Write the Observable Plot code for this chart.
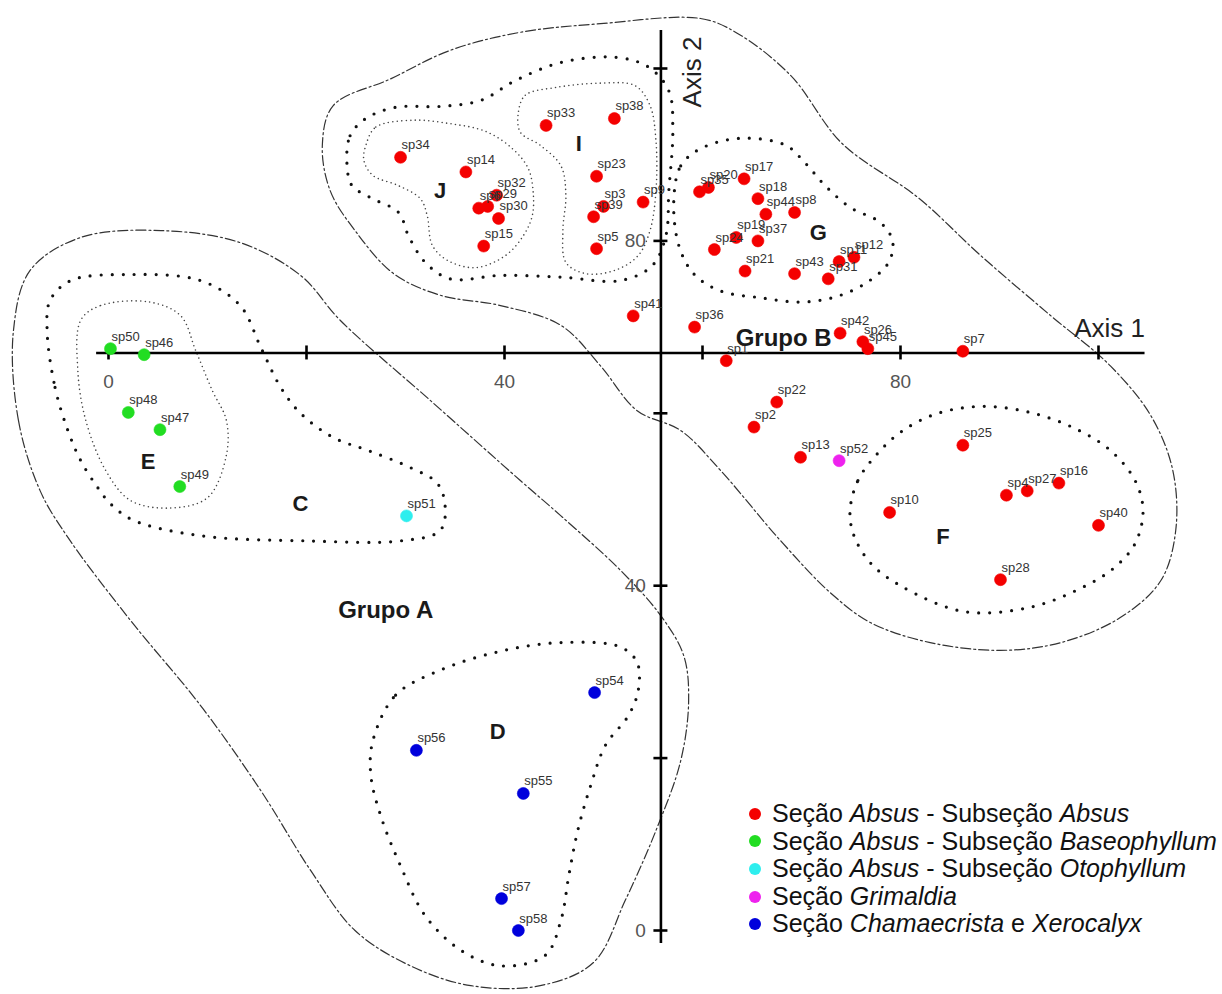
<!DOCTYPE html>
<html><head><meta charset="utf-8">
<script src="https://cdn.jsdelivr.net/npm/d3@7"></script>
<script src="https://cdn.jsdelivr.net/npm/@observablehq/plot@0.6"></script>
<style>
body{margin:0;background:#fff;font-family:"Liberation Sans",Arial,sans-serif;}
#wrap{position:relative;width:1222px;height:994px;overflow:hidden}
#legend{position:absolute;left:746px;top:800px;font-size:25px;line-height:27.6px;color:#111;}
.row{display:flex;align-items:center;white-space:nowrap}
.sw{width:12px;height:12px;border-radius:50%;margin-left:3px;margin-right:11px;flex:none}
</style></head><body><div id="wrap"><div id="legend"></div></div>
<script>
// ---- data: species scores on the two axes ----
const speciesNames = ["sp34","sp14","sp32","sp29","sp6","sp30","sp15","sp33","sp38","sp23","sp3","sp39","sp5","sp9",
  "sp35","sp20","sp17","sp18","sp44","sp8","sp19","sp37","sp24","sp21","sp43","sp31","sp11","sp12",
  "sp41","sp36","sp1","sp42","sp26","sp45","sp7","sp22","sp2","sp13","sp25","sp10","sp4","sp27","sp16","sp40","sp28",
  "sp52","sp50","sp46","sp48","sp47","sp49","sp51","sp54","sp56","sp55","sp57","sp58"];
const axis1 = [29.5,36.1,39.2,38.3,37.4,39.4,37.9,44.2,51.1,49.3,50.0,49.0,49.3,54.0,
  59.7,60.6,64.2,65.6,66.4,69.3,63.4,65.6,61.2,64.3,69.3,72.7,73.8,75.3,
  53.0,59.2,62.4,73.9,76.2,76.7,86.3,67.5,65.2,69.9,86.3,78.9,90.7,92.8,96.0,100.0,90.1,
  73.8,0.2,3.6,2.0,5.2,7.2,30.1,49.1,31.1,41.9,39.7,41.4];
const axis2 = [89.7,88.0,85.3,84.0,83.8,82.6,79.4,93.4,94.2,87.5,84.0,82.8,79.1,84.5,
  85.7,86.2,87.2,84.9,83.1,83.3,80.4,80.0,79.0,76.5,76.2,75.6,77.6,78.1,
  71.3,70.0,66.1,69.3,68.3,67.5,67.2,61.3,58.4,54.9,56.3,48.5,50.5,51.0,51.9,47.0,40.7,
  54.5,67.5,66.8,60.1,58.1,51.5,48.1,27.6,20.9,15.9,3.7,0.0];
const sectionOf = [...Array(45).fill("AA"),"GR","AB","AB","AB","AB","AB","AO","CX","CX","CX","CX","CX"];

const sections = ["AA","AB","AO","GR","CX"];
const sectionColors = ["#f40000","#22dd22","#2eeeee","#ee22ee","#0000dc"];
const legendLabels = [
  [["Seção ",0],["Absus",1],[" - Subseção ",0],["Absus",1]],
  [["Seção ",0],["Absus",1],[" - Subseção ",0],["Baseophyllum",1]],
  [["Seção ",0],["Absus",1],[" - Subseção ",0],["Otophyllum",1]],
  [["Seção ",0],["Grimaldia",1]],
  [["Seção ",0],["Chamaecrista",1],[" e ",0],["Xerocalyx",1]]
];

// ---- axes ----
const axisCross = {x: 55.8, y: 67};
const xAxisExtent = [-1.2, 104.7];
const yAxisExtent = [-1.5, 104.4];
const xTicks = [0,20,40,60,80,100];
const yTicks = [0,20,40,60,80,100];
const xTickLabels = [0,40,80];
const yTickLabels = [0,40,80];
const axisTitles = ["Axis 1","Axis 2"];

// ---- group outlines (axis units) ----
const grupoA = [[-9.6,69.6],[-9.1,59.2],[-6.9,51.0],[-4.1,45.6],[2.2,36.0],[9.3,26.1],[15.4,16.2],[20.4,7.0],[24.9,0],[30.5,-4.1],[36.6,-6.4],[43.6,-6.4],[49.0,-3.7],[52.2,3.5],[55.3,11.6],[57.8,19.7],[58.6,26.7],[58.1,31.9],[55.8,36.5],[51.7,41.8],[45.7,48.1],[41.6,52.2],[32.5,61.5],[23.4,70.8],[19.4,76.0],[13.3,79.8],[5.3,81.2],[-2.8,80.4],[-7.9,76.6]];
const grupoB = [[49.7,105.2],[59.8,105.8],[63.5,104.1],[68.9,99.2],[74.1,91.3],[81.8,85.0],[88.1,78.3],[95.2,71.3],[101.2,65.5],[105.3,59.7],[107.5,53.4],[107.8,46.4],[106.3,40.6],[102.2,36.3],[96.2,33.4],[90.1,32.5],[83.0,33.4],[77.0,35.7],[72.9,39.2],[67.9,45.2],[61.8,53.4],[57.8,58.0],[53.4,60.3],[49.7,65.5],[45.7,70.2],[39.6,72.5],[33.5,73.7],[28.8,76.2],[24.9,81.2],[22.4,85.8],[21.6,91.1],[22.7,95.7],[28.5,98.8],[34.5,102.1],[41.6,104.2]];
const groupC = [[-6.2,69.6],[-5.4,63.0],[-4.1,58.0],[-2.8,54.5],[-1.1,51.4],[0.2,49.5],[2.5,47.6],[9.3,45.8],[20.1,45.2],[29.5,45.2],[33.5,46.4],[34.0,49.3],[33.2,51.9],[30.5,53.7],[26.2,55.7],[22.7,57.2],[19.4,60.0],[17.4,63.0],[15.4,67.6],[13.3,72.5],[9.3,75.4],[2.2,76.1],[-3.8,75.4],[-5.9,73.1]];
const groupE = [[-2.8,70.8],[-0.8,72.5],[4.2,72.9],[7.3,71.3],[8.8,67.3],[10.5,62.6],[11.9,59.2],[11.9,55.1],[10.0,50.2],[6.0,49.0],[2.2,49.9],[-0.3,53.4],[-2.3,59.2],[-3.1,65.0]];
const groupD = [[26.7,22.0],[29.0,27.3],[33.5,30.2],[39.6,32.4],[45.7,33.4],[51.7,32.9],[53.4,31.1],[53.5,27.8],[52.5,24.9],[50.2,21.5],[48.7,16.8],[47.4,11.6],[46.5,6.4],[45.7,1.2],[44.1,-2.9],[39.6,-4.1],[35.6,-2.3],[32.0,1.7],[29.5,7.5],[27.5,13.3],[26.5,18.0]];
const groupF = [[74.9,48.7],[75.7,52.2],[77.5,55.1],[80.0,57.8],[83.5,59.9],[88.1,60.8],[93.1,60.1],[97.7,58.2],[101.2,55.7],[103.7,52.2],[104.5,48.7],[103.7,44.9],[101.5,42.0],[98.2,39.7],[93.1,37.5],[86.4,37.0],[80.0,40.0],[77.0,42.6],[75.3,45.8]];
const groupG = [[57.1,84.7],[57.8,88.7],[59.8,90.7],[63.8,91.9],[68.4,91.1],[70.4,89.0],[72.4,86.4],[74.9,83.9],[78.0,82.1],[79.2,80.0],[78.8,77.5],[76.5,75.1],[73.4,73.5],[69.9,72.9],[65.9,73.4],[61.8,74.2],[59.1,76.2],[57.6,79.5]];
const groupIJ = [[24.1,88.7],[24.4,92.2],[26.0,94.2],[29.0,95.5],[33.5,95.6],[37.6,96.3],[41.1,98.6],[45.7,100.7],[51.2,101.3],[54.5,100.2],[56.6,97.4],[57.0,92.8],[56.6,85.8],[56.3,80.6],[54.9,77.1],[51.7,75.4],[45.7,75.8],[39.6,76.0],[34.5,75.6],[32.0,77.5],[30.3,80.6],[29.3,83.3],[26.5,85.0],[24.6,86.4]];
const groupJ = [[26.0,91.1],[27.0,93.2],[30.8,94.0],[34.5,93.6],[38.1,92.7],[40.8,90.7],[42.4,88.4],[42.9,85.6],[42.8,82.9],[41.9,80.6],[40.1,78.3],[37.1,76.9],[34.3,77.7],[32.7,79.5],[32.2,82.9],[31.5,84.9],[29.3,86.4],[26.7,87.6],[25.8,89.3]];
const groupI = [[41.4,94.9],[42.1,96.9],[45.2,97.8],[49.7,98.3],[53.2,98.0],[54.7,95.7],[55.3,91.6],[55.3,85.8],[54.7,81.2],[53.5,78.3],[51.2,76.6],[48.2,76.2],[46.2,77.5],[45.9,81.2],[46.2,85.3],[45.7,88.7],[43.6,91.1],[41.6,92.6]];

const groupLabelText = ["J","I","G","Grupo B","C","E","F","Grupo A","D"];
const groupLabelX = [33.5,47.5,71.7,68.2,19.4,4.0,84.3,28.0,39.3];
const groupLabelY = [85.8,91.3,80.9,68.7,49.5,54.3,45.6,37.1,23.0];

// ---- build ----
const pts = speciesNames.map((name,i)=>({name, a1: axis1[i], a2: axis2[i], sec: sectionOf[i]}));
const groupLabels = groupLabelText.map((t,i)=>({t, x: groupLabelX[i], y: groupLabelY[i]}));

const styles = {
  dashdot: {stroke:"#333", strokeWidth:1.2, strokeDasharray:"10,3,2,3"},
  bigDot: {stroke:"#111", strokeWidth:3.2, strokeDasharray:"0,11", strokeLinecap:"round"},
  smallDot: {stroke:"#444", strokeWidth:1.6, strokeDasharray:"0,4.5", strokeLinecap:"round"}
};
const outlines = [[grupoA,"dashdot"],[grupoB,"dashdot"],[groupC,"bigDot"],[groupD,"bigDot"],[groupF,"bigDot"],
  [groupG,"bigDot"],[groupIJ,"bigDot"],[groupE,"smallDot"],[groupJ,"smallDot"],[groupI,"smallDot"]];

const axisStyle = {stroke:"#000", strokeWidth:2.6};

const chart = Plot.plot({
  width: 1222, height: 994,
  marginLeft: 108, marginRight: 124, marginTop: 68, marginBottom: 64,
  x: {domain:[0,100], axis:null},
  y: {domain:[0,100], axis:null},
  color: {domain: sections, range: sectionColors},
  style: {fontFamily:"'Liberation Sans', Arial, sans-serif", background:"#fff", overflow:"visible"},
  marks: [
    ...outlines.map(([o,s]) => Plot.line(o, {x: d=>d[0], y: d=>d[1], curve:"catmull-rom-closed", fill:"none", ...styles[s]})),
    Plot.ruleY([axisCross.y], {x1: xAxisExtent[0], x2: xAxisExtent[1], ...axisStyle}),
    Plot.ruleX([axisCross.x], {y1: yAxisExtent[0], y2: yAxisExtent[1], ...axisStyle}),
    Plot.ruleX(xTicks, {x: d=>d, y1: axisCross.y, y2: axisCross.y, insetTop:-7, insetBottom:-7, ...axisStyle}),
    Plot.ruleY(yTicks, {y: d=>d, x1: axisCross.x, x2: axisCross.x, insetLeft:-7, insetRight:-7, ...axisStyle}),
    Plot.text(xTickLabels, {x: d=>d, y: axisCross.y, text: d=>String(d), dy: 29, fontSize: 19, fill:"#555"}),
    Plot.text(yTickLabels, {x: axisCross.x, y: d=>d, text: d=>String(d), textAnchor:"end", dx:-15, fontSize: 19, fill:"#555"}),
    Plot.text([axisTitles[0]], {x: xAxisExtent[1], y: axisCross.y, text: d=>d, textAnchor:"end", lineAnchor:"bottom", dy:-16, fontSize:26, fill:"#222"}),
    Plot.text([axisTitles[1]], {x: axisCross.x, y: yAxisExtent[1], text: d=>d, rotate:-90, textAnchor:"end", lineAnchor:"bottom", dx:40, dy:6, fontSize:26, fill:"#222"}),
    Plot.dot(pts, {x:"a1", y:"a2", r:6, fill:"sec", stroke:"sec", strokeWidth:0.6}),
    Plot.text(pts, {x:"a1", y:"a2", text:"name", textAnchor:"start", lineAnchor:"bottom", dx:1, dy:-8, fontSize:13, fill:"#333"}),
    Plot.text(groupLabels, {x:"x", y:"y", text:"t", fontSize: d => d.t.length > 1 ? 24 : 22, fontWeight:"bold", fill:"#1a1a1a"})
  ]
});
const wrap = document.getElementById("wrap");
wrap.insertBefore(chart, wrap.firstChild);

// ---- legend ----
const legend = document.getElementById("legend");
legendLabels.forEach((parts,i)=>{
  const row = document.createElement("div"); row.className="row";
  const sw = document.createElement("span"); sw.className="sw"; sw.style.background = sectionColors[i];
  row.appendChild(sw);
  const txt = document.createElement("span");
  parts.forEach(([s,it])=>{
    const e = document.createElement(it ? "i" : "span");
    e.textContent = s; e.style.whiteSpace="pre";
    txt.appendChild(e);
  });
  row.appendChild(txt);
  legend.appendChild(row);
});
</script></body></html>
